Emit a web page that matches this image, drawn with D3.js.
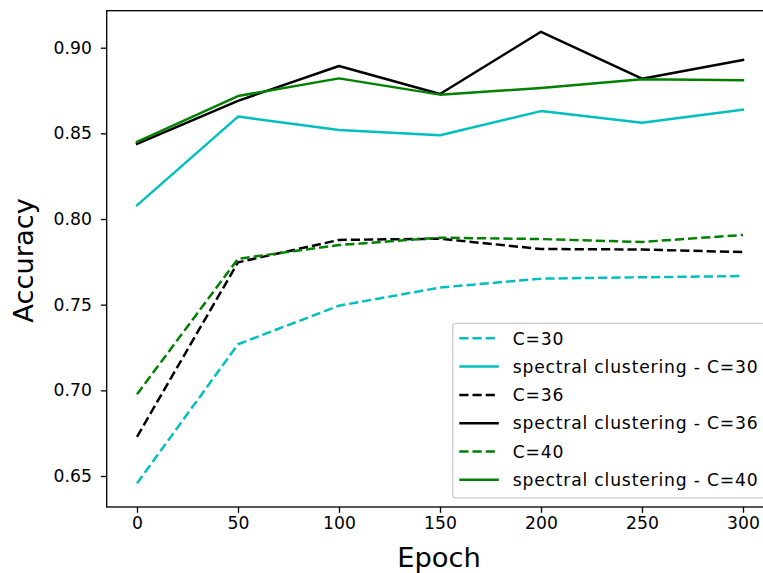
<!DOCTYPE html>
<html>
<head>
<meta charset="utf-8">
<script src="https://cdn.jsdelivr.net/npm/d3@7"></script>
<style>
  html, body { margin: 0; padding: 0; background: #fff; }
  svg { display: block; font-family: "DejaVu Sans", sans-serif; }
</style>
</head>
<body>
<svg id="chart" width="763" height="573"></svg>
<script>
const epochs = [0, 50, 100, 150, 200, 250, 300];
const xTicks = [0, 50, 100, 150, 200, 250, 300];
const yTicks = [0.65, 0.70, 0.75, 0.80, 0.85, 0.90];

const c30 = [0.6457, 0.7269, 0.7494, 0.7600, 0.7652, 0.7660, 0.7667];
const sc30 = [0.8080, 0.8598, 0.8520, 0.8489, 0.8630, 0.8562, 0.8638];
const c36 = [0.6729, 0.7747, 0.7878, 0.7885, 0.7825, 0.7822, 0.7807];
const sc36 = [0.8438, 0.8690, 0.8893, 0.8730, 0.9093, 0.8819, 0.8928];
const c40 = [0.6977, 0.7768, 0.7848, 0.7891, 0.7883, 0.7866, 0.7907];
const sc40 = [0.8451, 0.8718, 0.8821, 0.8726, 0.8765, 0.8816, 0.8810];

const seriesNames = ["C=30", "spectral clustering - C=30", "C=36", "spectral clustering - C=36", "C=40", "spectral clustering - C=40"];
const seriesData = [c30, sc30, c36, sc36, c40, sc40];
const seriesColors = ["#00bfbf", "#00bfbf", "#000000", "#000000", "#008000", "#008000"];
const seriesDashed = [true, false, true, false, true, false];

const svg = d3.select("#chart");
const L = 106.7, R = 773.3, T = 10.7, B = 507;
const x = d3.scaleLinear().domain([-15, 315]).range([L, R]);
const y = d3.scaleLinear().domain([0.6319, 0.9216]).range([B, T]);

const fs = 17.2;
const lw = 2.48;

// Lines
const line = d3.line().x((d, i) => x(epochs[i])).y(d => y(d));
seriesData.forEach((s, k) => {
  svg.append("path")
    .datum(s)
    .attr("d", line)
    .attr("fill", "none")
    .attr("stroke", seriesColors[k])
    .attr("stroke-width", lw)
    .attr("stroke-linejoin", "round")
    .attr("stroke-linecap", seriesDashed[k] ? "butt" : "square")
    .attr("stroke-dasharray", seriesDashed[k] ? "9.2,4" : null);
});

// Spines
const spine = svg.append("g").attr("stroke", "#000").attr("stroke-width", 1.33).attr("fill", "none");
spine.append("rect").attr("x", L).attr("y", T).attr("width", R - L).attr("height", B - T);

// X axis
const xAxis = d3.axisBottom(x).tickValues(xTicks).tickSize(5.8).tickPadding(4.2).tickFormat(d3.format("d"));
const gx = svg.append("g").attr("transform", `translate(0,${B})`).call(xAxis);
gx.select(".domain").remove();
gx.selectAll(".tick line").attr("stroke", "#000").attr("stroke-width", 1.33);
gx.selectAll(".tick text").attr("fill", "#000").style("font-size", fs + "px").style("font-family", "DejaVu Sans");

// Y axis
const yAxis = d3.axisLeft(y).tickValues(yTicks).tickSize(5.8).tickPadding(9).tickFormat(d3.format(".2f"));
const gy = svg.append("g").attr("transform", `translate(${L},0)`).call(yAxis);
gy.select(".domain").remove();
gy.selectAll(".tick line").attr("stroke", "#000").attr("stroke-width", 1.33);
gy.selectAll(".tick text").attr("fill", "#000").style("font-size", fs + "px").style("font-family", "DejaVu Sans");

// Axis labels
svg.append("text")
  .attr("x", (L + R) / 2 - 1).attr("y", 567)
  .attr("text-anchor", "middle")
  .style("font-size", "27.3px")
  .attr("fill", "#000")
  .text("Epoch");
svg.append("text")
  .attr("transform", `translate(33,${(T + B) / 2 + 1.5}) rotate(-90)`)
  .attr("text-anchor", "middle")
  .style("font-size", "27.3px")
  .attr("fill", "#000")
  .text("Accuracy");

// Legend
const lg = svg.append("g");
const lgL = 452.7, lgT = 323.3, lgR = 765, lgB = 497.8;
lg.append("rect")
  .attr("x", lgL).attr("y", lgT).attr("width", lgR - lgL).attr("height", lgB - lgT)
  .attr("rx", 3.3).attr("ry", 3.3)
  .attr("fill", "#fff").attr("fill-opacity", 0.8)
  .attr("stroke", "#cccccc").attr("stroke-width", 1.3);
seriesNames.forEach((name, k) => {
  const cy = 338.3 + k * 28.3;
  lg.append("line")
    .attr("x1", 459.3).attr("x2", 498.8).attr("y1", cy).attr("y2", cy)
    .attr("stroke", seriesColors[k]).attr("stroke-width", lw)
    .attr("stroke-dasharray", seriesDashed[k] ? "9.2,4" : null);
  lg.append("text")
    .attr("x", 512.7).attr("y", cy + 6.2)
    .style("font-size", fs + "px")
    .style("letter-spacing", "0.8px")
    .attr("fill", "#000")
    .text(name);
});
</script>
</body>
</html>
